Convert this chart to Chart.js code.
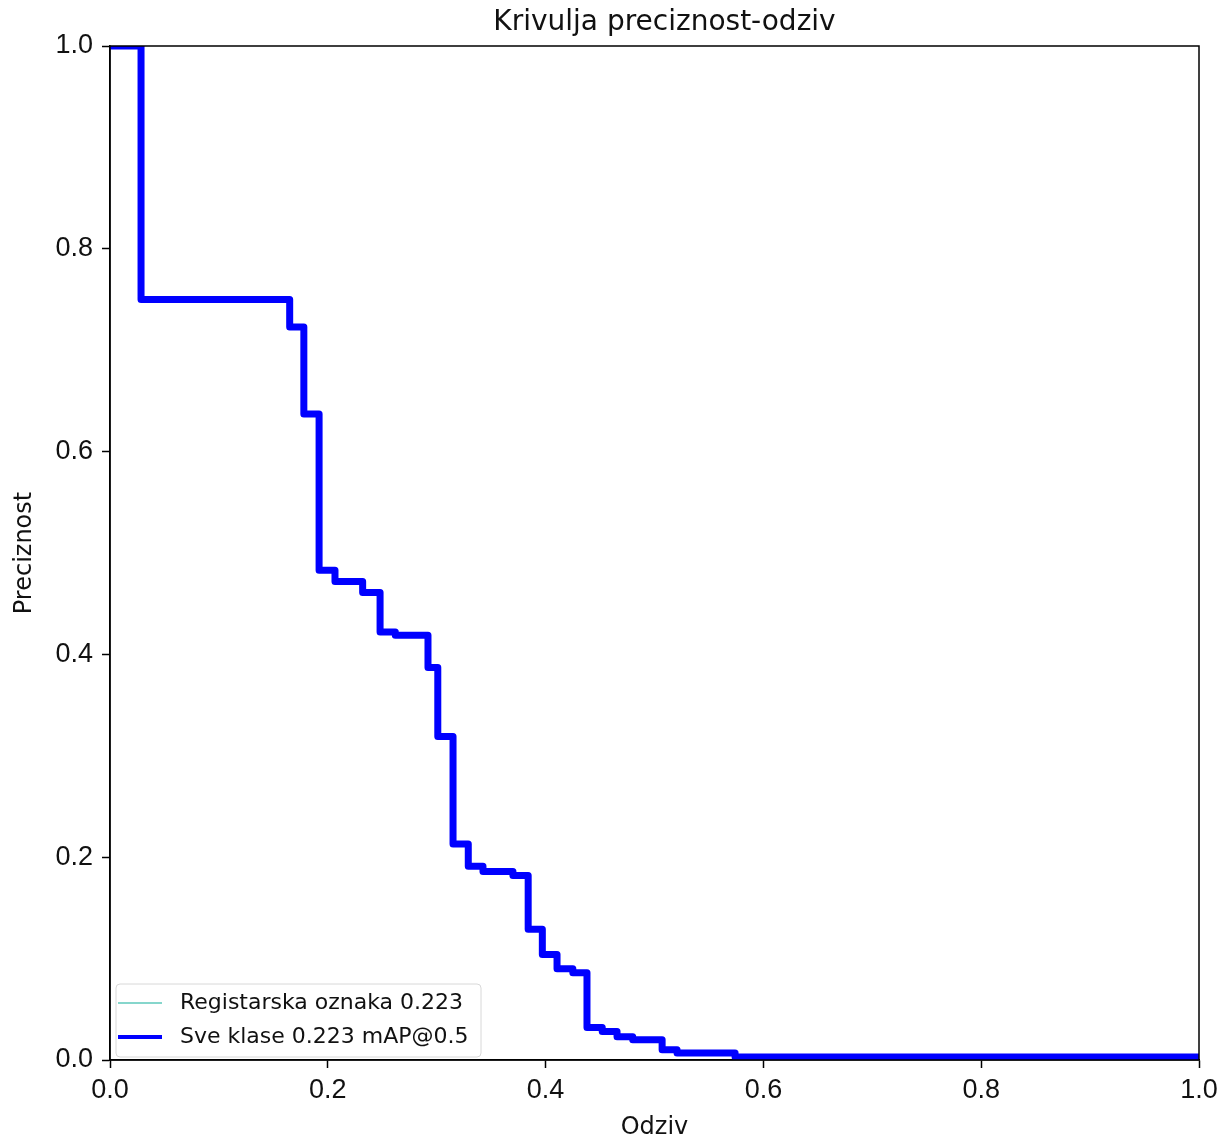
<!DOCTYPE html>
<html>
<head>
<meta charset="utf-8">
<title>Krivulja preciznost-odziv</title>
<script src="https://cdn.jsdelivr.net/npm/chart.js@4"></script>
<style>
  html, body { margin: 0; padding: 0; background: #fff; }
  #wrap { width: 1231px; height: 1142px; position: relative; }
</style>
</head>
<body>
<div id="wrap"><canvas id="chart"></canvas></div>
<script>
// PR curve: recall at each step and the precision reached there
const recall = [0, 0.0285, 0.165, 0.178, 0.192, 0.2066, 0.232, 0.248, 0.262, 0.292,
  0.301, 0.315, 0.329, 0.3425, 0.370, 0.384, 0.397, 0.4105, 0.425, 0.438,
  0.452, 0.4656, 0.480, 0.507, 0.5207, 0.574, 1.0];
const precision = [1.0, 0.75, 0.723, 0.637, 0.483, 0.472, 0.461, 0.422, 0.419, 0.387,
  0.319, 0.213, 0.191, 0.186, 0.182, 0.129, 0.104, 0.090, 0.086, 0.032,
  0.028, 0.023, 0.020, 0.010, 0.007, 0.003, 0.001];
const axisTicks = [0, 0.2, 0.4, 0.6, 0.8, 1.0];
const labels = ["Registarska oznaka 0.223", "Sve klase 0.223 mAP@0.5"];

const TEAL = "#86d6cc";
const BLUE = "#0000ff";

const points = recall.map(function(r, i) { return { x: r, y: precision[i] }; });

// frame on all four sides, title, and the boxed legend inside the plot
const decor = {
  id: "decor",
  afterDatasetsDraw(chart) {
    const ctx = chart.ctx;
    const a = chart.chartArea;
    ctx.save();
    ctx.strokeStyle = "#000";
    ctx.lineWidth = 1.5;
    ctx.strokeRect(a.left, a.top, a.right - a.left, a.bottom - a.top);

    ctx.fillStyle = "#111";
    ctx.font = "28px 'DejaVu Sans'";
    ctx.textAlign = "center";
    ctx.textBaseline = "middle";
    ctx.fillText("Krivulja preciznost-odziv", (a.left + a.right) / 2 + 10, 23);

    // legend
    const bx = a.left + 6, by = a.bottom - 76, bw = 365, bh = 73;
    ctx.fillStyle = "rgba(255,255,255,0.8)";
    ctx.strokeStyle = "#d8d8d8";
    ctx.lineWidth = 1;
    ctx.beginPath();
    ctx.roundRect(bx, by, bw, bh, 4);
    ctx.fill();
    ctx.stroke();

    const rows = [by + 19, by + 53];
    const colors = [TEAL, BLUE];
    const widths = [2, 4];
    ctx.font = "22px 'DejaVu Sans'";
    ctx.textAlign = "left";
    ctx.fillStyle = "#111";
    for (let i = 0; i < 2; i++) {
      ctx.strokeStyle = colors[i];
      ctx.lineWidth = widths[i];
      ctx.beginPath();
      ctx.moveTo(bx + 2, rows[i]);
      ctx.lineTo(bx + 46, rows[i]);
      ctx.stroke();
      ctx.fillText(labels[i], bx + 64, rows[i]);
    }
    ctx.restore();
  }
};

function axis(title, isY) {
  return {
    type: "linear",
    min: 0,
    max: 1,
    afterBuildTicks(s) { s.ticks = axisTicks.map(function(v) { return { value: v }; }); },
    afterFit(s) {
      if (isY) s.width = 110; else s.height = 82;
    },
    grid: {
      display: true,
      drawOnChartArea: false,
      drawTicks: true,
      tickLength: 8,
      tickWidth: 1.5,
      tickColor: "#000",
    },
    border: { display: true, color: "#000", width: 1.5 },
    ticks: {
      font: { family: "Liberation Sans", size: 27 },
      color: "#111",
      padding: isY ? 9 : 6,
      callback: function(v) { return v.toFixed(1); },
    },
    title: {
      display: true,
      text: title,
      font: { family: "DejaVu Sans", size: 24 },
      color: "#111",
      padding: isY ? { top: 10, bottom: 0 } : { top: 0, bottom: 0 },
    },
  };
}

new Chart(document.getElementById("chart"), {
  type: "line",
  data: {
    datasets: [
      {
        label: labels[1],
        data: points,
        borderColor: BLUE,
        borderWidth: 7,
        stepped: "before",
        pointRadius: 0,
        fill: false,
        clip: 0,
        borderJoinStyle: "round",
      },
      {
        label: labels[0],
        data: points,
        borderColor: TEAL,
        borderWidth: 1.5,
        stepped: "before",
        pointRadius: 0,
        fill: false,
        clip: 0,
      },
    ],
  },
  options: {
    responsive: true,
    maintainAspectRatio: false,
    animation: false,
    layout: { padding: { top: 46, right: 32, left: 0, bottom: 0 } },
    plugins: {
      legend: { display: false },
      tooltip: { enabled: false },
    },
    scales: {
      x: axis("Odziv", false),
      y: axis("Preciznost", true),
    },
  },
  plugins: [decor],
});
</script>
</body>
</html>
